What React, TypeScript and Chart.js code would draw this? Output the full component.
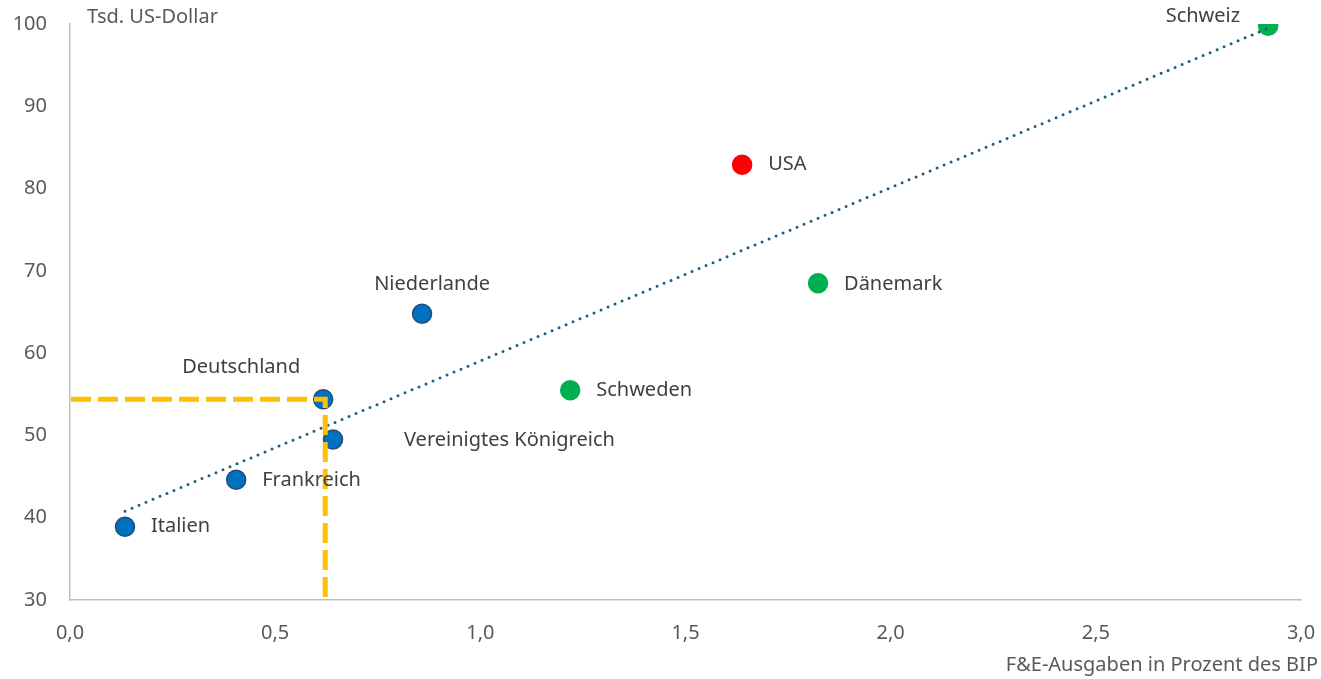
import React, { useEffect, useRef } from "react";
import { Chart, registerables } from "chart.js";

Chart.register(...registerables);

const countries = ["Italien", "Frankreich", "Deutschland", "Vereinigtes Königreich", "Niederlande", "Schweden", "USA", "Dänemark", "Schweiz"];
const rdShare = [0.134, 0.405, 0.617, 0.641, 0.858, 1.219, 1.638, 1.823, 2.92];
const gdpPerCapita = [38.9, 44.6, 54.4, 49.5, 64.8, 55.5, 82.9, 68.5, 99.8];
const groups = ["eu", "eu", "eu", "eu", "eu", "nordic", "us", "nordic", "nordic"];
const trendX = [0.134, 2.92];
const trendY = [40.8, 99.5];
const markerX = [0, 0.622, 0.622];
const markerY = [54.4, 54.4, 30];
const xTicks = [0, 0.5, 1, 1.5, 2, 2.5, 3];
const yTicks = [30, 40, 50, 60, 70, 80, 90, 100];
const yTitle = "Tsd. US-Dollar";
const xTitle = "F&E-Ausgaben in Prozent des BIP";

const fillColors: Record<string, string> = { eu: "#0070C0", nordic: "#00B050", us: "#FF0000" };
const borderColors: Record<string, string> = { eu: "#1F4E79", nordic: "#00B050", us: "#FF0000" };

// label placement: [dx, dy, align]
const labelPlacement: [number, number, CanvasTextAlign][] = [
  [26, 0, "left"],
  [26, 0, "left"],
  [-82, -32, "center"],
  [71, 1, "left"],
  [10, -29, "center"],
  [26, 0, "left"],
  [26, 0, "left"],
  [26, 1, "left"],
  [-28, -9, "right"],
];

const FONT = "'Noto Sans', 'Open Sans', sans-serif";

const labelsPlugin = {
  id: "customLabels",
  afterDatasetsDraw(chart: any) {
    const ctx = chart.ctx;
    const meta = chart.getDatasetMeta(2);
    ctx.save();
    ctx.font = `20px ${FONT}`;
    ctx.fillStyle = "#404040";
    ctx.textBaseline = "middle";
    meta.data.forEach((pt: any, i: number) => {
      const [dx, dy, align] = labelPlacement[i];
      ctx.textAlign = align;
      ctx.fillText(countries[i], pt.x + dx, pt.y + dy);
    });
    // axis titles
    ctx.font = `20px ${FONT}`;
    ctx.fillStyle = "#595959";
    ctx.textAlign = "left";
    ctx.fillText(yTitle, chart.chartArea.left + 17, 17);
    ctx.textAlign = "right";
    ctx.fillText(xTitle, chart.width - 3, 665);
    ctx.restore();
  },
};

export default function App() {
  const ref = useRef<HTMLCanvasElement>(null);
  useEffect(() => {
    if (!ref.current) return;
    const chart = new Chart(ref.current, {
      type: "scatter",
      data: {
        datasets: [
          {
            type: "line",
            data: markerX.map((x, i) => ({ x, y: markerY[i] })),
            borderColor: "#FFC000",
            borderWidth: 5,
            borderDash: [20, 7],
            borderDashOffset: -1,
            borderJoinStyle: "miter",
            pointRadius: 0,
            fill: false,
            tension: 0,
            order: 0,
          } as any,
          {
            type: "line",
            data: trendX.map((x, i) => ({ x, y: trendY[i] })),
            borderColor: "#1B5E82",
            borderWidth: 3,
            borderDash: [0, 7.6],
            borderCapStyle: "round",
            pointRadius: 0,
            fill: false,
            order: 1,
          } as any,
          {
            data: rdShare.map((x, i) => ({ x, y: gdpPerCapita[i] })),
            backgroundColor: groups.map((g) => fillColors[g]),
            borderColor: groups.map((g) => borderColors[g]),
            borderWidth: 1.5,
            pointRadius: 9.5,
            order: 2,
          },
        ],
      },
      options: {
        animation: false,
        responsive: true,
        maintainAspectRatio: false,
        layout: { padding: { left: 0, right: 20, top: 24, bottom: 0 } },
        plugins: { legend: { display: false }, tooltip: { enabled: false } },
        scales: {
          x: {
            type: "linear",
            min: 0,
            max: 3,
            afterFit: (s: any) => {
              s.height = 79;
              s.paddingLeft = 0;
              s.paddingRight = 0;
            },
            afterBuildTicks: (s: any) => { s.ticks = xTicks.map((v) => ({ value: v })); },
            grid: { display: false, drawTicks: false },
            border: { display: true, color: "#BFBFBF", width: 1.5 },
            ticks: {
              padding: 21,
              color: "#595959",
              font: { size: 20, family: FONT },
              callback: (v: any) => Number(v).toFixed(1).replace(".", ","),
              maxRotation: 0,
            },
          },
          y: {
            type: "linear",
            min: 30,
            max: 100,
            afterFit: (s: any) => {
              s.width = 70;
              s.paddingTop = 0;
              s.paddingBottom = 0;
            },
            afterBuildTicks: (s: any) => { s.ticks = yTicks.map((v) => ({ value: v })); },
            grid: { display: false, drawTicks: false },
            border: { display: true, color: "#BFBFBF", width: 1.5 },
            ticks: {
              padding: 23,
              color: "#595959",
              font: { size: 20, family: FONT },
            },
          },
        },
      },
      plugins: [labelsPlugin],
    });
    return () => chart.destroy();
  }, []);
  return (
    <div style={{ position: "fixed", left: 0, top: 0, width: 1321, height: 679, background: "#fff" }}>
      <canvas ref={ref} />
    </div>
  );
}
